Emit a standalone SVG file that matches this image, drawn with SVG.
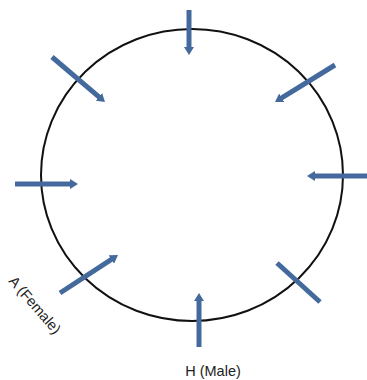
<svg xmlns="http://www.w3.org/2000/svg" width="367" height="380" viewBox="0 0 367 380">
  <style>
    .arr { stroke: #44699C; stroke-width: 5; fill: none; }
    .lbl { font-family: "Liberation Sans", Arial, sans-serif; font-size: 14.5px; fill: #222; }
  </style>
  <defs>
    <marker id="ah" viewBox="0 0 8 10" refX="2" refY="5" markerWidth="8" markerHeight="10" markerUnits="userSpaceOnUse" orient="auto">
      <path d="M0,0 L8,5 L0,10 z" fill="#44699C"/>
    </marker>
  </defs>
  <rect width="367" height="380" fill="#fff"/>
  <g id="ring">
    <ellipse cx="192" cy="175" rx="151" ry="146" fill="none" stroke="#111" stroke-width="2"/>
  </g>
  <g id="connectors">
    <line class="arr" x1="189" y1="10" x2="189" y2="49" marker-end="url(#ah)"/>
    <line class="arr" x1="52" y1="57" x2="100.4" y2="98.1" marker-end="url(#ah)"/>
    <line class="arr" x1="335" y1="65" x2="280.1" y2="98.8" marker-end="url(#ah)"/>
    <line class="arr" x1="15" y1="184" x2="72" y2="184" marker-end="url(#ah)"/>
    <line class="arr" x1="367" y1="176" x2="313" y2="176" marker-end="url(#ah)"/>
    <line class="arr" x1="277" y1="263" x2="320" y2="302"/>
    <line class="arr" x1="199" y1="347" x2="199" y2="299" marker-end="url(#ah)"/>
    <line class="arr" x1="60" y1="293" x2="113" y2="258.3" marker-end="url(#ah)"/>
  </g>
  <g id="label-a">
    <text class="lbl" x="35" y="310" text-anchor="middle" transform="rotate(49 35 305)">A (Female)</text>
  </g>
  <g id="label-h">
    <text class="lbl" x="213" y="376" text-anchor="middle">H (Male)</text>
  </g>
</svg>
